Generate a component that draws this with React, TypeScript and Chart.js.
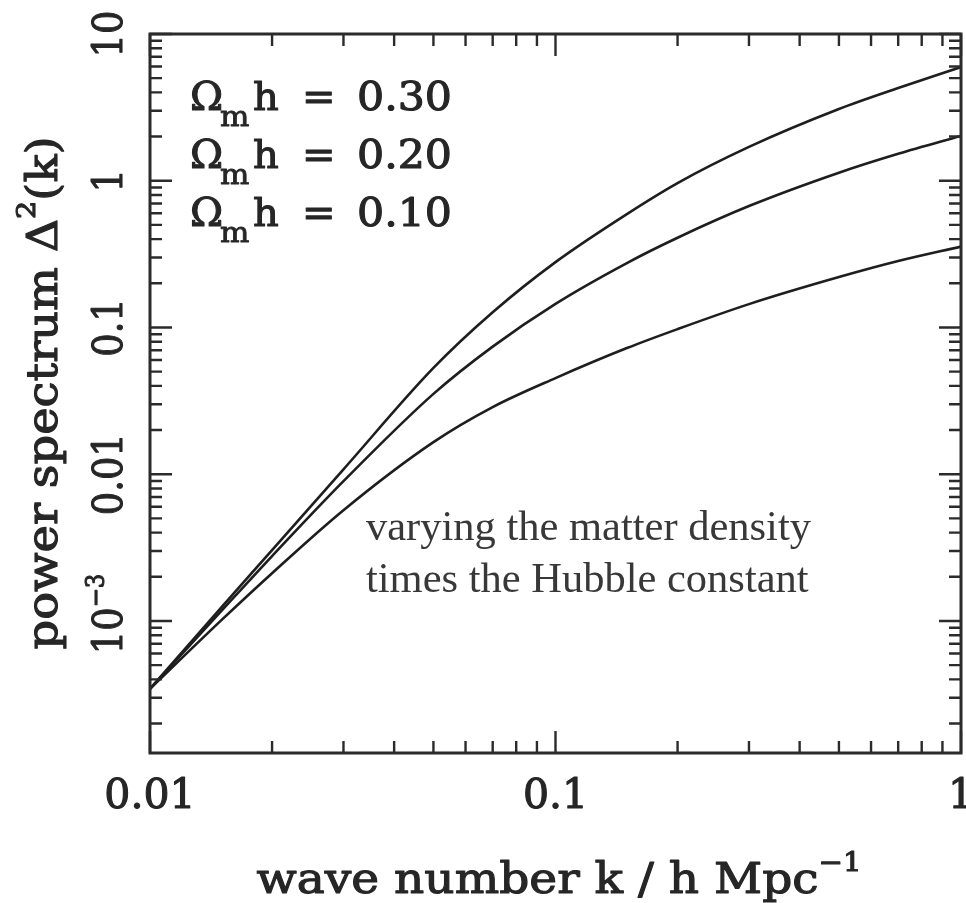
import React, { useEffect, useRef } from "react";
import { Chart, registerables } from "chart.js";

Chart.register(...registerables);

// ---- data ----
const kValues = [0.01, 0.015, 0.02, 0.03, 0.05, 0.07, 0.1, 0.15, 0.2, 0.3, 0.5, 0.7, 1.0];
const seriesOmh030 = [3.45e-4, 1.24e-3, 3.04e-3, 0.0108, 0.053, 0.127, 0.279, 0.593, 0.964, 1.7, 3.08, 4.28, 5.95];
const seriesOmh020 = [3.45e-4, 1.17e-3, 2.77e-3, 0.00897, 0.0353, 0.0741, 0.145, 0.275, 0.409, 0.672, 1.134, 1.526, 2.02];
const seriesOmh010 = [3.45e-4, 1.013e-3, 2.117e-3, 0.00569, 0.01655, 0.02868, 0.0452, 0.0724, 0.0975, 0.1443, 0.2206, 0.2836, 0.356];
const legendValues = ["0.30", "0.20", "0.10"];
const xTickValues = [0.01, 0.1, 1];
const xTickLabels = ["0.01", "0.1", "1"];
const yTickValues = [10, 1, 0.1, 0.01, 0.001];
const yTickLabels = ["10", "1", "0.1", "0.01", "10^−3"];
const annotationLines = ["varying the matter density", "times the Hubble constant"];
const xTitle = "wave number k / h Mpc";
const xTitleSup = "−1";
const yTitleA = "power spectrum Δ";
const yTitleSup = "2";
const yTitleB = "(k)";

const X_MIN = 0.01;
const X_MAX = 1;
const Y_MIN = 1.26e-4;
const Y_MAX = 10;

const SLAB = '"DejaVu Serif", "Liberation Serif", serif';
const SERIF = '"Liberation Serif", "DejaVu Serif", serif';
const INK = "#262626";

type Run = { t: string; size: number; dy: number };

function drawRuns(
  ctx: CanvasRenderingContext2D,
  runs: Run[],
  x: number,
  y: number,
  opts: {
    align?: "left" | "center";
    rot?: number;
    sx?: number;
    width?: number;
    family?: string;
    weight?: string;
    color?: string;
    thicken?: number;
  }
) {
  const fam = opts.family ?? SLAB;
  const weight = opts.weight ?? "normal";
  ctx.save();
  ctx.translate(x, y);
  if (opts.rot) ctx.rotate(opts.rot);
  const color = opts.color ?? INK;
  ctx.fillStyle = color;
  ctx.strokeStyle = color;
  ctx.lineJoin = "round";
  ctx.textBaseline = "alphabetic";
  ctx.textAlign = "left";
  let raw = 0;
  const widths: number[] = [];
  for (const r of runs) {
    ctx.font = `${weight} ${r.size}px ${fam}`;
    const w = ctx.measureText(r.t).width;
    widths.push(w);
    raw += w;
  }
  const sx = opts.width ? opts.width / raw : opts.sx ?? 1;
  const total = raw * sx;
  let cx = opts.align === "center" ? -total / 2 : 0;
  runs.forEach((r, i) => {
    ctx.save();
    ctx.translate(cx, r.dy);
    ctx.scale(sx, 1);
    ctx.font = `${weight} ${r.size}px ${fam}`;
    ctx.fillText(r.t, 0, 0);
    if (opts.thicken) {
      ctx.lineWidth = opts.thicken;
      ctx.strokeText(r.t, 0, 0);
    }
    ctx.restore();
    cx += widths[i] * sx;
  });
  ctx.restore();
}

const decorPlugin = {
  id: "decor",
  afterDraw(chart: any) {
    const ctx: CanvasRenderingContext2D = chart.ctx;
    const { left, right, top, bottom } = chart.chartArea;
    const xs = chart.scales.x;
    const ys = chart.scales.y;
    ctx.save();
    ctx.strokeStyle = "#2b2b2b";
    ctx.lineWidth = 3;
    ctx.strokeRect(left, top, right - left, bottom - top);

    ctx.lineWidth = 2.4;
    const MAJ = 22;
    const MIN = 12;
    for (let d = -3; d <= 0; d++) {
      for (let m = 1; m <= 9; m++) {
        const v = m * Math.pow(10, d);
        if (v < X_MIN * 0.999 || v > X_MAX * 1.001) continue;
        const px = xs.getPixelForValue(v);
        const len = m === 1 ? MAJ : MIN;
        ctx.beginPath();
        ctx.moveTo(px, bottom);
        ctx.lineTo(px, bottom - len);
        ctx.moveTo(px, top);
        ctx.lineTo(px, top + len);
        ctx.stroke();
      }
    }
    for (let d = -5; d <= 1; d++) {
      for (let m = 1; m <= 9; m++) {
        const v = m * Math.pow(10, d);
        if (v < Y_MIN * 0.999 || v > Y_MAX * 1.001) continue;
        const py = ys.getPixelForValue(v);
        const len = m === 1 ? MAJ : MIN;
        ctx.beginPath();
        ctx.moveTo(left, py);
        ctx.lineTo(left + len, py);
        ctx.moveTo(right, py);
        ctx.lineTo(right - len, py);
        ctx.stroke();
      }
    }
    ctx.restore();

    const F = 41;
    const TH = 1.1;
    // x tick labels
    xTickValues.forEach((v, i) => {
      drawRuns(ctx, [{ t: xTickLabels[i], size: F, dy: 0 }], xs.getPixelForValue(v), 808, {
        align: "center",
        thicken: TH,
      });
    });
    // y tick labels (rotated)
    yTickValues.forEach((v, i) => {
      const lab = yTickLabels[i];
      const py = ys.getPixelForValue(v);
      let runs: Run[];
      let shift = 0;
      if (lab.includes("^")) {
        const [b, e] = lab.split("^");
        runs = [
          { t: b, size: F, dy: 0 },
          { t: e, size: F * 0.62, dy: -F * 0.45 },
        ];
        shift = 7;
      } else runs = [{ t: lab, size: F, dy: 0 }];
      drawRuns(ctx, runs, 122, py - shift, { align: "center", rot: -Math.PI / 2, sx: 0.9, thicken: TH });
    });

    // axis titles
    const TF = 42;
    drawRuns(
      ctx,
      [
        { t: xTitle, size: TF, dy: 0 },
        { t: xTitleSup, size: TF * 0.62, dy: -TF * 0.52 },
      ],
      559,
      893,
      { align: "center", width: 605, thicken: TH }
    );
    drawRuns(
      ctx,
      [
        { t: yTitleA, size: TF, dy: 0 },
        { t: yTitleSup, size: TF * 0.62, dy: -TF * 0.52 },
        { t: yTitleB, size: TF, dy: 0 },
      ],
      57,
      393,
      { align: "center", rot: -Math.PI / 2, width: 513, thicken: TH }
    );

    // legend text (Ω_m h = value)
    const LF = 40;
    legendValues.forEach((val, i) => {
      const by = 110 + i * 58;
      drawRuns(ctx, [{ t: "Ω", size: LF, dy: 0 }], 190, by, { thicken: TH });
      drawRuns(ctx, [{ t: "m", size: 27, dy: 0 }], 220, by + 16, { sx: 1.15, thicken: 0.8 });
      drawRuns(ctx, [{ t: "h", size: LF, dy: 0 }], 253, by, { thicken: TH });
      drawRuns(ctx, [{ t: "=", size: LF, dy: 0 }], 302, by, { thicken: TH });
      drawRuns(ctx, [{ t: val, size: LF, dy: 0 }], 357, by, { width: 95, thicken: TH });
    });

    // annotation
    annotationLines.forEach((line, i) => {
      drawRuns(ctx, [{ t: line, size: 42.5, dy: 0 }], 366, 540 + i * 52, {
        family: SERIF,
        color: "#383838",
      });
    });
  },
};

function PowerSpectrumChart() {
  const ref = useRef<HTMLCanvasElement | null>(null);
  useEffect(() => {
    const canvas = ref.current;
    if (!canvas) return;
    const mk = (label: string, ys: number[]) => ({
      label,
      data: kValues.map((k, i) => ({ x: k, y: ys[i] })),
      borderColor: "#1e1e1e",
      borderWidth: 2.6,
      pointRadius: 0,
      fill: false,
      cubicInterpolationMode: "monotone" as const,
    });
    const chart = new Chart(canvas, {
      type: "line",
      data: {
        datasets: [
          mk("Ωm h = 0.30", seriesOmh030),
          mk("Ωm h = 0.20", seriesOmh020),
          mk("Ωm h = 0.10", seriesOmh010),
        ],
      },
      options: {
        responsive: false,
        animation: false,
        devicePixelRatio: 1,
        events: [],
        layout: { padding: { left: 150, right: 5, top: 34, bottom: 150 } },
        plugins: { legend: { display: false }, tooltip: { enabled: false } },
        scales: {
          x: { type: "logarithmic", min: X_MIN, max: X_MAX, display: false },
          y: { type: "logarithmic", min: Y_MIN, max: Y_MAX, display: false },
        },
      },
      plugins: [decorPlugin],
    });
    return () => chart.destroy();
  }, []);
  return (
    <canvas
      ref={ref}
      width={966}
      height={903}
      style={{ position: "absolute", left: 0, top: 0, width: 966, height: 903, background: "#fff" }}
    />
  );
}

export default function App() {
  return <PowerSpectrumChart />;
}
